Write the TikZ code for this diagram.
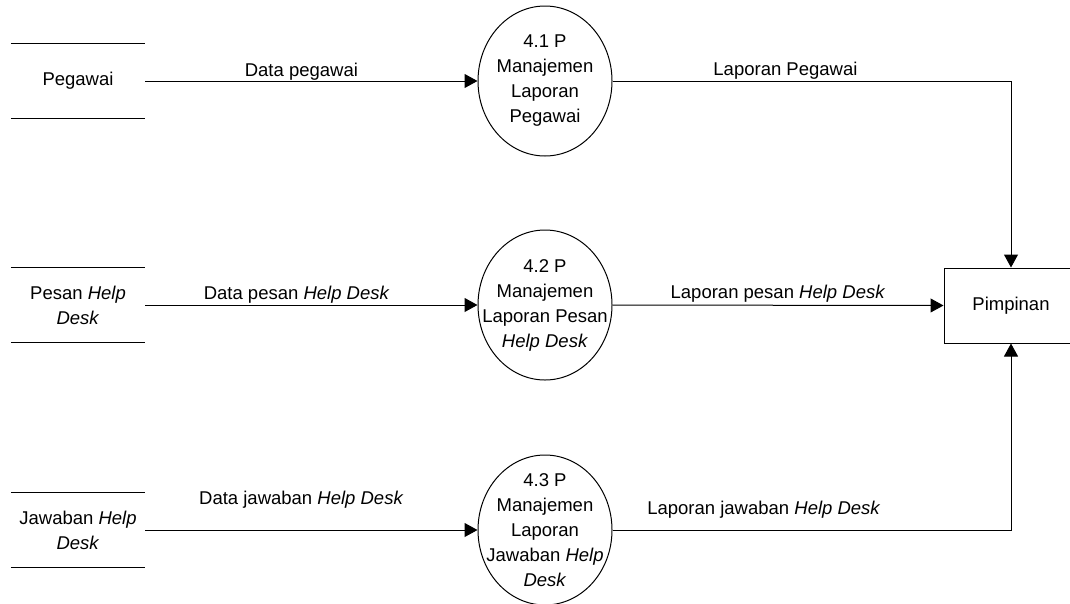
\documentclass[tikz,border=0pt]{standalone}
\usepackage{fontspec}
\setmainfont{Liberation Sans}
\usetikzlibrary{shapes.geometric,arrows.meta}

\begin{document}
\begin{tikzpicture}[x=1pt,y=-1pt,
  every node/.style={font=\fontsize{18.5}{25}\selectfont},
  proc/.style={draw, ellipse, line width=1pt, minimum width=134pt,
    minimum height=150pt, inner sep=-30pt, align=center},
  store/.style={minimum width=134pt, minimum height=75pt, inner sep=0pt,
    align=center},
  storeline/.style={line width=1pt},
  entity/.style={draw, rectangle, line width=1pt, minimum width=134pt,
    minimum height=75pt, inner sep=0pt},
  flow/.style={line width=1pt, -{Triangle[length=13pt,width=14pt]}},
  lbl/.style={anchor=base, inner sep=0pt},
]
\clip (0,0) rectangle (1070,603);

% data stores
\node[store] (s1) at (78,81) {Pegawai};
\node[store] (s2) at (78,305) {Pesan \textit{Help}\\\textit{Desk}};
\node[store] (s3) at (78,530) {Jawaban \textit{Help}\\\textit{Desk}};
\foreach \s in {s1,s2,s3}{
  \draw[storeline] (\s.north west) -- (\s.north east);
  \draw[storeline] (\s.south west) -- (\s.south east);
}

% processes
\node[proc] (p1) at (545,81) {4.1 P\\Manajemen\\Laporan\\Pegawai};
\node[proc] (p2) at (545,305) {4.2 P\\Manajemen\\Laporan Pesan\\\textit{Help Desk}};
\node[proc] (p3) at (545,530) {4.3 P\\Manajemen\\Laporan\\Jawaban \textit{Help}\\\textit{Desk}};

% external entity
\node[entity] (pim) at (1011,305.5) {Pimpinan};

% input flows
\draw[flow] (s1.east) -- node[lbl, pos=0.47, yshift=5pt] {Data pegawai} (p1.west);
\draw[flow] (s2.east) -- node[lbl, pos=0.456, yshift=6pt] {Data pesan \textit{Help Desk}} (p2.west);
\draw[flow] (s3.east) -- node[lbl, pos=0.47, yshift=26pt] {Data jawaban \textit{Help Desk}} (p3.west);

% output flows
\draw[flow] (p1.east) -| node[lbl, pos=0.217, yshift=6pt] {Laporan Pegawai} (pim.north);
\draw[flow] (p2.east) -- node[lbl, pos=0.5, yshift=7pt] {Laporan pesan \textit{Help Desk}} (pim.west);
\draw[flow] (p3.east) -| node[lbl, pos=0.19, yshift=16pt] {Laporan jawaban \textit{Help Desk}} (pim.south);
\end{tikzpicture}
\end{document}
